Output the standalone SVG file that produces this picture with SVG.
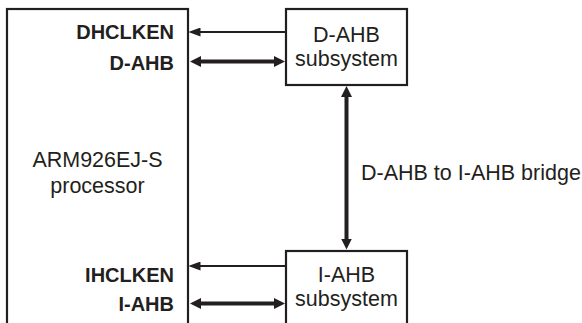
<svg xmlns="http://www.w3.org/2000/svg" width="582" height="323" viewBox="0 0 582 323">
<style>
.box{fill:#fff;stroke:#231f20;stroke-width:2.2}
.lbl{font-family:"Liberation Sans",Arial,sans-serif;font-size:21.5px;fill:#231f20;text-anchor:middle}
.sig{font-family:"Liberation Sans",Arial,sans-serif;font-size:20px;font-weight:bold;fill:#231f20;text-anchor:end}
.thin{stroke:#231f20;stroke-width:2;fill:none}
.thick{stroke:#231f20;stroke-width:4;fill:none}
</style>
<defs>
<marker id="ah" markerUnits="userSpaceOnUse" viewBox="0 0 12 9" refX="6" refY="4.5" markerWidth="12" markerHeight="9" orient="auto-start-reverse"><path d="M0,0 L12,4.5 L0,9 z" fill="#231f20"/></marker>
<marker id="ahb" markerUnits="userSpaceOnUse" viewBox="0 0 11 11" refX="5" refY="5.5" markerWidth="11" markerHeight="11" orient="auto-start-reverse"><path d="M0,0 L11,5.5 L0,11 z" fill="#231f20"/></marker>
</defs>
<g id="processor">
<rect class="box" x="7" y="9" width="181" height="340"/>
<text class="lbl" x="97.5" y="167">ARM926EJ-S</text>
<text class="lbl" x="97.5" y="193">processor</text>
<text class="sig" x="174" y="39">DHCLKEN</text>
<text class="sig" x="174" y="70">D-AHB</text>
<text class="sig" x="174" y="282">IHCLKEN</text>
<text class="sig" x="174" y="311">I-AHB</text>
</g>
<g id="dahb">
<rect class="box" x="286" y="9" width="121" height="76"/>
<text class="lbl" x="346.5" y="42">D-AHB</text>
<text class="lbl" x="346.5" y="66">subsystem</text>
</g>
<g id="iahb">
<rect class="box" x="286" y="251" width="121" height="100"/>
<text class="lbl" x="346.5" y="282">I-AHB</text>
<text class="lbl" x="346.5" y="306">subsystem</text>
</g>
<g id="connectors">
<line class="thin" x1="286" y1="32" x2="194.5" y2="32" marker-end="url(#ah)"/>
<line class="thick" x1="196" y1="61.5" x2="279" y2="61.5" marker-start="url(#ahb)" marker-end="url(#ahb)"/>
<line class="thin" x1="286" y1="266" x2="194.5" y2="266" marker-end="url(#ah)"/>
<line class="thick" x1="196" y1="303.5" x2="279" y2="303.5" marker-start="url(#ahb)" marker-end="url(#ahb)"/>
<line class="thick" x1="346.5" y1="92" x2="346.5" y2="243.5" marker-start="url(#ahb)" marker-end="url(#ahb)"/>
<text class="lbl" x="361" y="180" style="text-anchor:start">D-AHB to I-AHB bridge</text>
</g>
</svg>
